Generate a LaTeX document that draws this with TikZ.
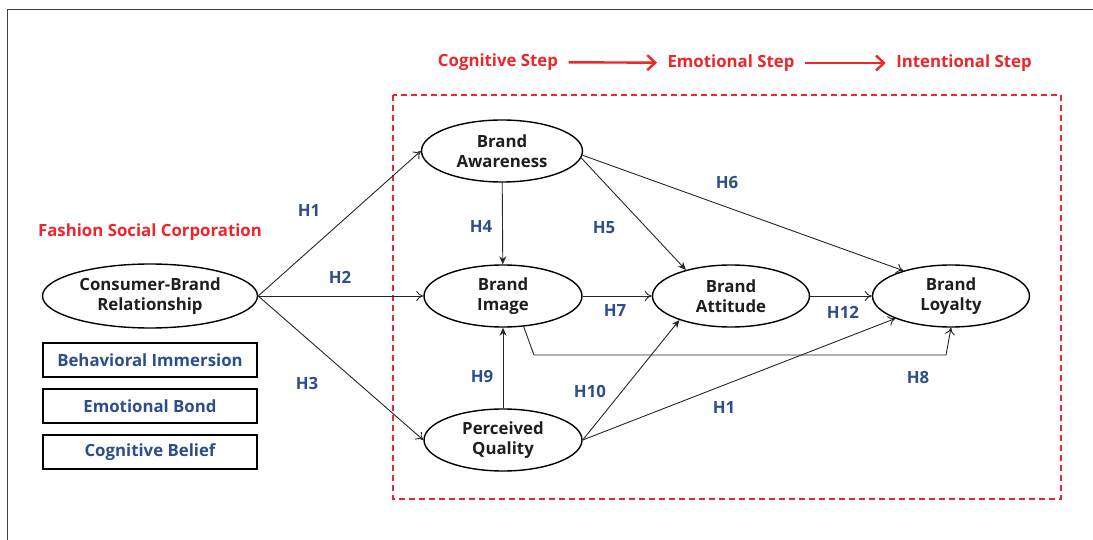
\documentclass[tikz,border=0pt]{standalone}
\usepackage{fontspec}
\setmainfont{Open Sans}
\usepackage{tikz}
\usetikzlibrary{shapes.geometric,arrows.meta}
\definecolor{stepred}{RGB}{236,38,42}
\definecolor{hypblue}{RGB}{45,78,138}
\definecolor{inkdark}{RGB}{30,30,30}
\tikzstyle{construct}=[ellipse,draw=black,line width=1.4pt,inner sep=0pt,
                       minimum width=158pt,minimum height=62pt,align=center,
                       text=inkdark,font=\fontsize{16.8}{20}\selectfont\bfseries]
\tikzstyle{dimbox}=[rectangle,draw=black,line width=1.6pt,
                    minimum width=214pt,minimum height=34pt,text=hypblue,
                    font=\fontsize{16.8}{18}\selectfont\bfseries]
\tikzstyle{hyplabel}=[text=hypblue,font=\fontsize{16.8}{18}\selectfont\bfseries]
\tikzstyle{steplabel}=[text=stepred,font=\fontsize{16.8}{18}\selectfont\bfseries]
\tikzstyle{steparrow}=[draw=stepred,line width=2.4pt,shorten <=7pt,shorten >=7pt,
                       -{Straight Barb[length=8pt,width=15pt]}]
\tikzstyle{hyp}=[draw=black!85,line width=0.9pt,-{To[length=7pt,width=10pt]}]
\tikzstyle{hypfill}=[draw=black!85,line width=0.9pt,
                     -{Stealth[length=8pt,width=7pt]}]

\begin{document}
\begin{tikzpicture}[x=1pt,y=-1pt]
    \useasboundingbox (0,0) rectangle (1093,540);
    % frame and stage box
    \draw[line width=1pt,black!75] (7,545) -- (7,10) -- (1098,10);
    \draw[draw=stepred,line width=1.1pt,dash pattern=on 6pt off 4pt]
        (393,95) rectangle (1061,499);
    % steps
    \node (cog) at (498,62) [steplabel]{Cognitive Step};
    \node (emo) at (731,63) [steplabel]{Emotional Step};
    \node (int) at (964,63) [steplabel]{Intentional Step};
    \draw[steparrow] (cog) -- (emo);
    \draw[steparrow] (emo) -- (int);
    % left side
    \node (fsc) at (150,232) [steplabel]{Fashion Social Corporation};
    \node (cbr) at (150,296) [construct,minimum width=215pt,minimum height=64pt]
        {Consumer-Brand\\Relationship};
    \node (bim) at (150,360) [dimbox]{Behavioral Immersion};
    \node (emb) at (150,406) [dimbox]{Emotional Bond};
    \node (cgb) at (150,452) [dimbox]{Cognitive Belief};
    % constructs
    \node (ba) at (502,151) [construct,minimum width=161pt]{Brand\\Awareness};
    \node (bi) at (503,296) [construct]{Brand\\Image};
    \node (pq) at (503,440) [construct]{Perceived\\Quality};
    \node (batt) at (731,296) [construct,minimum width=157pt]{Brand\\Attitude};
    \node (bl) at (951,296) [construct,minimum width=157pt]{Brand\\Loyalty};
    % hypotheses
    \draw[hyp] (cbr.east) -- (ba.west);
    \draw[hyp] (cbr.east) -- (bi.west);
    \draw[hyp] (cbr.east) -- (pq.west);
    \draw[hypfill] (ba) -- (bi);
    \draw[hypfill] (ba.-5) -- (batt.150);
    \draw[hyp] (ba.-3) -- (bl.152);
    \draw[hyp] (bi.east) -- (batt.west);
    \draw[hyp] (batt.east) -- (bl.west);
    \coordinate (h8a) at (534,355);
    \coordinate (h8b) at (946,355);
    \draw[hyp] (bi.-56) -- (h8a) -- (h8b) -- (bl.south);
    \draw[hypfill] (pq) -- (bi);
    \draw[hypfill] (pq.east) -- (batt.205);
    \draw[hyp] (pq.east) -- (bl.202);
    % labels
    \node (l1) at (309,211) [hyplabel]{H1};
    \node (l2) at (340,277) [hyplabel]{H2};
    \node (l3) at (307,383) [hyplabel]{H3};
    \node (l4) at (481,227) [hyplabel]{H4};
    \node (l5) at (604,228) [hyplabel]{H5};
    \node (l6) at (727,183) [hyplabel]{H6};
    \node (l7) at (615,311) [hyplabel]{H7};
    \node (l8) at (918,378) [hyplabel]{H8};
    \node (l9) at (482,377) [hyplabel]{H9};
    \node (l10) at (590,391) [hyplabel]{H10};
    \node (l11) at (724,408) [hyplabel]{H1};
    \node (l12) at (843,312) [hyplabel]{H12};
\end{tikzpicture}
\end{document}
